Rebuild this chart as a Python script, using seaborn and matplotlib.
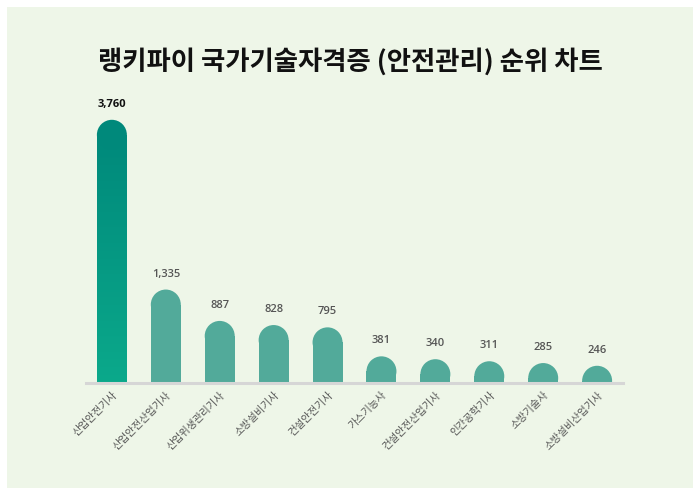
import matplotlib
matplotlib.use("Agg")
import matplotlib.pyplot as plt
import matplotlib.patches as mpatches
from matplotlib.colors import LinearSegmentedColormap
import numpy as np
import pandas as pd
import seaborn as sns

categories = ["산업안전기사", "산업안전산업기사", "산업위생관리기사", "소방설비기사", "건설안전기사",
              "가스기능사", "건설안전산업기사", "인간공학기사", "소방기술사", "소방설비산업기사"]
values = [3760, 1335, 887, 828, 795, 381, 340, 311, 285, 246]
value_labels = ["3,760", "1,335", "887", "828", "795", "381", "340", "311", "285", "246"]
title = "랭키파이 국가기술자격증 (안전관리) 순위 차트"

sns.set_theme(style="white")
plt.rcParams['font.family'] = ['Noto Sans CJK KR', 'DejaVu Sans']

W, H = 700, 495
fig = plt.figure(figsize=(7, 4.95), dpi=100, facecolor="white")
fig.patches.append(mpatches.Rectangle((7 / W, 7 / H), 686 / W, 481 / H, transform=fig.transFigure,
                                      facecolor="#eef6e8", edgecolor="none", zorder=-10))

ax_left, ax_right = 86, 623
ax_bottom_px, ax_top_px = 383, 82
ax = fig.add_axes([ax_left / W, (H - ax_bottom_px) / H, (ax_right - ax_left) / W, (ax_bottom_px - ax_top_px) / H])
ax.set_facecolor("none")
ax.set_zorder(5)

df = pd.DataFrame({"cat": categories, "val": values})
bar_color = "#52aa9a"
sns.barplot(data=df, x="cat", y="val", color=bar_color, width=0.556, ax=ax, saturation=1)
ax.set_xlim(-0.48, 9.48)
ax.set_ylim(0, 4300)

px_per_unit_y = (ax_bottom_px - ax_top_px) / 4300
r_px = 15
r_data = r_px / px_per_unit_y

patches = list(ax.patches)
for i, p in enumerate(patches):
    x0, w, h = p.get_x(), p.get_width(), p.get_height()
    cx = x0 + w / 2
    r = min(r_data, h * 0.9)
    body = h - r
    p.set_height(body)
    p.set_edgecolor("none")
    if i == 0:
        p.set_facecolor("none")
        grad = np.linspace(0, 1, 256).reshape(-1, 1)
        cmap = LinearSegmentedColormap.from_list("g", ["#0ba98b", "#00897b"])
        im = ax.imshow(grad, cmap=cmap, aspect="auto", extent=(x0, x0 + w, 0, body), origin="lower", zorder=2)
        im.set_clip_path(p)
        top_col = "#00897b"
    else:
        top_col = bar_color
    ax.add_patch(mpatches.Ellipse((cx, body), w, 2 * r, facecolor=top_col, edgecolor="none", zorder=2))
    lab_y = h + 15.5 / px_per_unit_y
    if i == 0:
        ax.text(cx, lab_y, value_labels[i], ha="center", va="center", fontsize=8, fontweight="bold",
                family=["Open Sans", "DejaVu Sans"], color="#111111")
    else:
        ax.text(cx, lab_y, value_labels[i], ha="center", va="center", fontsize=8, fontweight="semibold",
                family=["Open Sans", "DejaVu Sans"], color="#555555")

ax.set_xlim(-0.48, 9.48)
ax.set_ylim(0, 4300)
ax.set_xlabel("")
ax.set_ylabel("")
ax.set_yticks([])
ax.tick_params(axis="x", length=0, pad=5)
ax.set_xticks(range(len(categories)))
ax.set_xticklabels(categories, rotation=45, ha="right", rotation_mode="anchor", fontsize=7.5, color="#555555")
for s in ["top", "right", "left"]:
    ax.spines[s].set_visible(False)
ax.spines["bottom"].set_color("#d6d6d6")
ax.spines["bottom"].set_linewidth(2.2)

fig.text(0.5, (H - 62) / H, title, ha="center", va="center", fontsize=19, fontweight="bold", color="#111111")

fig.savefig("out.png", dpi=100, facecolor="white")
